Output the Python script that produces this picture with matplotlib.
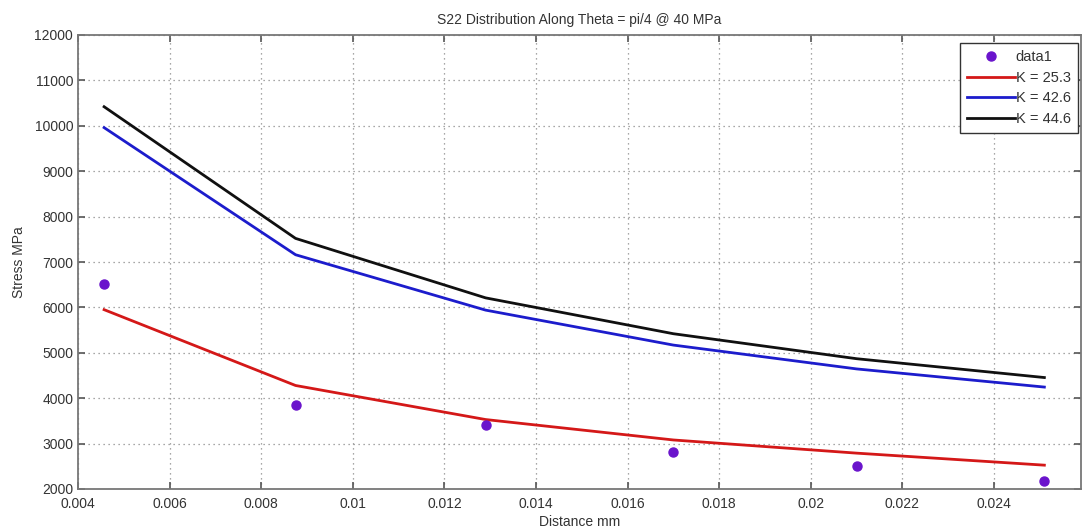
import matplotlib
matplotlib.use("Agg")
import matplotlib.pyplot as plt
from matplotlib.ticker import FuncFormatter

plt.rcParams['font.family'] = ['Liberation Sans', 'DejaVu Sans']

# Measured stress samples along theta = pi/4
distance = [0.00457, 0.00875, 0.0129, 0.0170, 0.0210, 0.0251]
measured = [6510, 3840, 3400, 2810, 2515, 2170]

# Fitted curves for three stress-intensity values
k_labels = ["K = 25.3", "K = 42.6", "K = 44.6"]
k_253 = [5950, 4280, 3530, 3080, 2790, 2525]
k_426 = [9960, 7160, 5940, 5170, 4645, 4245]
k_446 = [10420, 7520, 6210, 5420, 4870, 4455]

x_ticks = [0.004, 0.006, 0.008, 0.01, 0.012, 0.014, 0.016, 0.018, 0.02, 0.022, 0.024]
y_ticks = [2000, 3000, 4000, 5000, 6000, 7000, 8000, 9000, 10000, 11000, 12000]

W, H = 1082, 529
fig = plt.figure(figsize=(W / 100, H / 100), dpi=100)
ax = fig.add_axes([78 / W, 1 - 489 / H, 1003 / W, 454 / H])

ax.plot(distance, measured, linestyle='none', marker='o', markersize=6.5,
        color='#6a14cc', label='data1', zorder=4)
ax.plot(distance, k_253, color='#d41818', linewidth=2.0, label=k_labels[0], zorder=3)
ax.plot(distance, k_426, color='#1c1ccc', linewidth=2.0, label=k_labels[1], zorder=3)
ax.plot(distance, k_446, color='#101010', linewidth=2.0, label=k_labels[2], zorder=3)

ax.set_xlim(0.004, 0.0259)
ax.set_ylim(2000, 12000)
ax.set_xticks(x_ticks)
ax.set_yticks(y_ticks)
ax.xaxis.set_major_formatter(FuncFormatter(lambda v, p: f"{v:g}"))
ax.yaxis.set_major_formatter(FuncFormatter(lambda v, p: f"{int(v)}"))

ax.grid(True, linestyle=(0, (1, 3)), color='#8a8a8a', linewidth=0.9)
ax.tick_params(direction='in', length=5, width=1.2, color='#555555',
               labelsize=10, top=True, right=True, labelcolor='#333333')
ax.tick_params(axis='x', pad=6)
for s in ax.spines.values():
    s.set_color('#777777')
    s.set_linewidth(1.3)

ax.set_title("S22 Distribution Along Theta = pi/4 @ 40 MPa", fontsize=10,
             color='#333333', pad=8)
ax.set_xlabel("Distance mm", fontsize=10, color='#333333', labelpad=3)
ax.set_ylabel("Stress MPa", fontsize=10, color='#333333', labelpad=6)

leg = ax.legend(loc='upper right', bbox_to_anchor=(1078 / W, 1 - 43 / H),
                bbox_transform=fig.transFigure, fontsize=10.5, frameon=True,
                fancybox=False, edgecolor='#333333', framealpha=1,
                borderpad=0.5, labelspacing=0.45, handlelength=3.3,
                handletextpad=0.05, borderaxespad=0)
leg.get_frame().set_linewidth(1.0)
for t in leg.get_texts():
    t.set_color('#333333')

fig.savefig("out.png", dpi=100)
